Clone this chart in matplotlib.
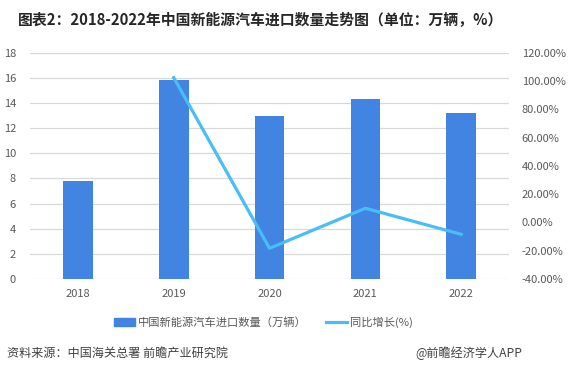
import matplotlib.pyplot as plt
from matplotlib.lines import Line2D
from matplotlib.patches import Patch
from matplotlib.ticker import FuncFormatter

plt.rcParams['font.family'] = ['Noto Sans CJK SC', 'DejaVu Sans']

# 数据
years = ["2018", "2019", "2020", "2021", "2022"]
import_qty = [7.8, 15.8, 13.0, 14.3, 13.2]          # 万辆
growth_years = ["2019", "2020", "2021", "2022"]
growth_pct = [102.4, -18.3, 10.0, -8.4]              # %

bar_color = "#4184E2"
line_color = "#49BDF5"
tick_color = "#595959"

fig = plt.figure(figsize=(5.69, 3.75), dpi=100)
ax = fig.add_axes([0.0527, 0.256, 0.842, 0.6035])

x = list(range(len(years)))
ax.bar(x, import_qty, width=0.31, color=bar_color, zorder=3)
ax.set_xlim(-0.5, len(years) - 0.5)
ax.set_ylim(0, 18)
ax.set_yticks(range(0, 19, 2))
ax.set_xticks(x)
ax.set_xticklabels(years)
ax.grid(axis="y", color="#D9D9D9", linewidth=0.9, zorder=0)
for s in ax.spines.values():
    s.set_visible(False)
ax.tick_params(axis="both", length=0, colors=tick_color, labelsize=8)
ax.tick_params(axis="y", pad=10)
ax.tick_params(axis="x", pad=7)

ax2 = ax.twinx()
gx = [years.index(y) for y in growth_years]
ax2.plot(gx, growth_pct, color=line_color, linewidth=2.3, zorder=4)
ax2.set_ylim(-40, 120)
ax2.set_yticks(range(-40, 121, 20))
ax2.yaxis.set_major_formatter(FuncFormatter(lambda v, p: f"{v:.2f}%"))
for s in ax2.spines.values():
    s.set_visible(False)
ax2.tick_params(axis="y", length=0, colors=tick_color, labelsize=8, pad=9)

# 图例
handles = [Patch(color=bar_color), Line2D([0], [0], color=line_color, linewidth=2.3)]
labels = ["中国新能源汽车进口数量（万辆）", "同比增长(%)"]
fig.legend(handles, labels, loc="center left", bbox_to_anchor=(0.2, 0.141), ncol=2,
           frameon=False, fontsize=8.1, handlelength=1.9, handletextpad=0.25,
           columnspacing=1.7, labelcolor=tick_color, borderpad=0, borderaxespad=0)

# 标题与来源
fig.text(0.031, 0.947, "图表2：2018-2022年中国新能源汽车进口数量走势图（单位：万辆，%）",
         fontsize=10.7, fontweight="bold", color="#262626", va="center")
fig.text(0.012, 0.057, "资料来源：中国海关总署 前瞻产业研究院", fontsize=8.7,
         color="#404040", va="center")
fig.text(0.918, 0.057, "@前瞻经济学人APP", fontsize=8.7, color="#404040",
         va="center", ha="right")

fig.savefig("out.png", dpi=100)
